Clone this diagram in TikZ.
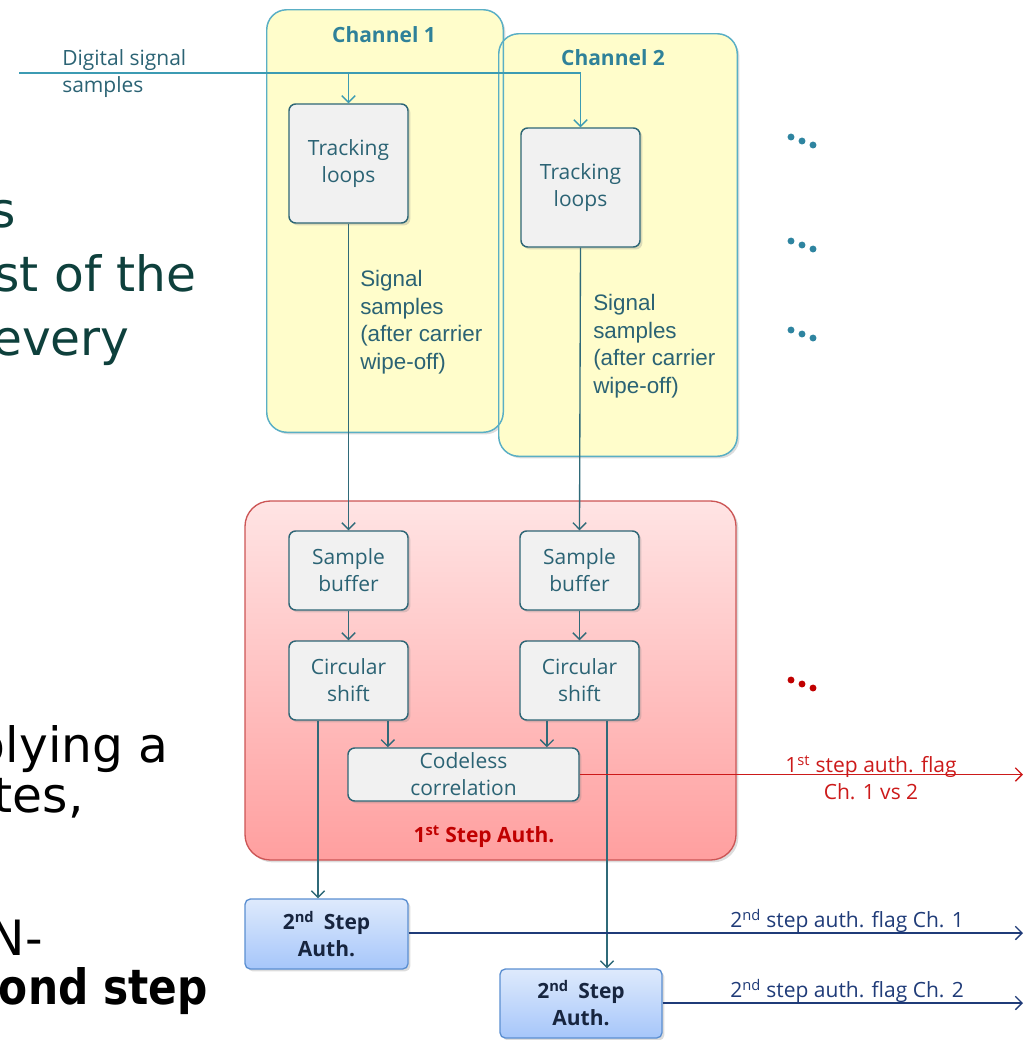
\documentclass[tikz,border=0pt]{standalone}
\usepackage{fontspec}
\setmainfont{Open Sans}
\newfontfamily\arialfont{Liberation Sans}
\newfontfamily\slidefont{DejaVu Sans}
\usetikzlibrary{arrows.meta,shadows}

\definecolor{chanfill}{HTML}{FFFDCB}
\definecolor{chanedge}{HTML}{5AAFC5}
\definecolor{chantitle}{HTML}{2F8199}
\definecolor{procfill}{HTML}{F1F1F1}
\definecolor{procedge}{HTML}{2E6676}
\definecolor{proctext}{HTML}{2B6374}
\definecolor{inline}{HTML}{3C9BB3}
\definecolor{flowline}{HTML}{2F6A79}
\definecolor{redtop}{HTML}{FFE4E4}
\definecolor{redbot}{HTML}{FF9F9F}
\definecolor{rededge}{HTML}{CC5555}
\definecolor{redtext}{HTML}{C00000}
\definecolor{flagred}{HTML}{CC1A1A}
\definecolor{authtop}{HTML}{DEEAFC}
\definecolor{authbot}{HTML}{A6C6FA}
\definecolor{authedge}{HTML}{5B8FD1}
\definecolor{authtext}{HTML}{17253F}
\definecolor{flagblue}{HTML}{1F3B78}
\definecolor{slideteal}{HTML}{0E403C}
\definecolor{dotteal}{HTML}{2E84A0}

\newcommand{\bodyfont}{\fontsize{15.75}{20.25}\selectfont}
\newcommand{\notefont}{\arialfont\fontsize{16.8}{20.7}\selectfont}
\newcommand{\slidesize}{\slidefont\fontsize{36.5}{47}\selectfont}

\tikzset{
  softshadow/.style={drop shadow={opacity=0.28, shadow xshift=1.8pt, shadow yshift=-1.8pt}},
  chanarea/.style={fill=chanfill, rounded corners=15pt, inner sep=0pt, softshadow},
  chanborder/.style={draw=chanedge, line width=1.1pt, rounded corners=15pt},
  chantitle/.style={font=\bodyfont\bfseries, text=chantitle, anchor=base},
  procbox/.style={fill=procfill, draw=procedge, line width=1.1pt, rounded corners=5pt,
    text=proctext, font=\bodyfont, align=center, inner sep=0pt, softshadow,
    minimum width=89.25pt},
  authbox/.style={top color=authtop, bottom color=authbot, draw=authedge, line width=1pt,
    rounded corners=4pt, text=authtext, font=\bodyfont\bfseries, align=center,
    inner sep=0pt, softshadow},
  redarea/.style={top color=redtop, bottom color=redbot, draw=rededge, line width=1pt,
    rounded corners=19pt, inner sep=0pt, softshadow},
  barb/.style={-{Straight Barb[length=5pt,width=10pt]}},
  feed/.style={draw=inline, line width=1pt, barb},
  flow/.style={draw=flowline, line width=1pt, barb},
  note/.style={font=\notefont, text=proctext, align=left, anchor=north west, inner sep=0pt},
  slidetext/.style={font=\slidesize, anchor=base east, inner sep=0pt},
}

\begin{document}
\begin{tikzpicture}[x=0.75pt,y=-0.75pt]
\useasboundingbox (0,0) rectangle (1029,1040);
\clip (0,0) rectangle (1029,1040);

% slide text running behind the diagram
\node[slidetext, text=slideteal] (sa) at (16,227) {s};
\node[slidetext, text=slideteal] (sb) at (197,291) {st of the};
\node[slidetext, text=slideteal] (sc) at (130,355) {every};
\node[slidetext, text=black] (sd) at (169,762) {plying a};
\node[slidetext, text=black] (se) at (84,812) {tes,};
\node[slidetext, text=black] (sf) at (43,955) {N-};
\node[slidetext, text=black, font=\slidesize\bfseries] (sg) at (208,1004)
  {\scalebox{0.87}[1]{ond step}};

% channel areas
\node[chanarea, minimum width=177pt, minimum height=316.5pt] (ch1) at (385,221) {};
\node[chanarea, minimum width=178.5pt, minimum height=316.5pt] (ch2) at (618,245) {};
\draw[chanborder] (ch1.south west) rectangle (ch1.north east);
\draw[chanborder] (ch2.south west) rectangle (ch2.north east);
\node[chantitle] (t1) at (384,42) {Channel 1};
\node[chantitle] (t2) at (613,65) {Channel 2};

% first-step authentication area
\node[redarea, minimum width=368.25pt, minimum height=269.25pt] (red) at (490.5,680.5) {};
\node[font=\bodyfont\bfseries, text=redtext, anchor=base] (redlbl) at (484,842)
  {1\textsuperscript{st} Step Auth.};

% processing blocks
\node[procbox, minimum height=89.25pt] (trk1) at (348.5,163.5) {Tracking\\loops};
\node[procbox, minimum height=89.25pt] (trk2) at (580.5,187.5) {Tracking\\loops};
\node[procbox, minimum height=59.25pt] (buf1) at (348.5,570.5) {Sample\\buffer};
\node[procbox, minimum height=59.25pt] (buf2) at (579.5,570.5) {Sample\\buffer};
\node[procbox, minimum height=59.25pt] (cs1) at (348.5,680.5) {Circular\\shift};
\node[procbox, minimum height=59.25pt] (cs2) at (579.5,680.5) {Circular\\shift};
\node[procbox, minimum width=173.25pt, minimum height=39.75pt] (cor) at (463.5,774.5)
  {Codeless\\correlation};

% second-step authentication blocks
\node[authbox, minimum width=122.25pt, minimum height=52.5pt] (au1) at (326.5,934)
  {2\textsuperscript{nd}\hspace{0.45em}Step\\Auth.};
\node[authbox, minimum width=121.5pt, minimum height=51.75pt] (au2) at (581,1003.5)
  {2\textsuperscript{nd}\hspace{0.45em}Step\\Auth.};

% input samples
\coordinate (din) at (19,73);
\node[font=\bodyfont, text=proctext, align=left, anchor=base west, inner sep=0pt]
  (dinlbl) at (62,92) {Digital signal\\samples};
\draw[feed] (din) -| (trk2.north);
\draw[feed] (trk1.north |- din) -- (trk1.north);

% per-channel flows
\draw[flow] (trk1.south) -- (buf1.north);
\draw[flow] (trk2.south) -- (buf2.north);
\node[note] (n1) at (360,270) {Signal\\samples\\(after carrier\\wipe-off)};
\node[note] (n2) at (593,294) {Signal\\samples\\(after carrier\\wipe-off)};
\draw[flow] (buf1.south) -- (cs1.north);
\draw[flow] (buf2.south) -- (cs2.north);
\draw[flow] ([xshift=29.5pt]cs1.south) -- ([xshift=29.5pt]cs1.south |- cor.north);
\draw[flow] ([xshift=-24.4pt]cs2.south) -- ([xshift=-24.4pt]cs2.south |- cor.north);
\draw[flow] ([xshift=-22.9pt]cs1.south) -- ([xshift=-22.9pt]cs1.south |- au1.north);
\draw[flow] ([xshift=20.6pt]cs2.south) -- ([xshift=20.6pt]cs2.south |- au2.north);

% output flags
\coordinate (f1) at (1023,774.5);
\coordinate (f2) at (1023,933);
\coordinate (f3) at (1023,1003);
\draw[draw=flagred, line width=1pt, barb] (cor.east) -- (f1);
\node[font=\bodyfont, text=flagred, align=center, inner sep=0pt] (f1lbl) at (871,778)
  {1\textsuperscript{st} step auth. flag\\Ch. 1 vs 2};
\draw[draw=flagblue, line width=1pt, barb] (au1.east |- f2) -- (f2);
\draw[draw=flagblue, line width=1pt, barb] (au2.east |- f3) -- (f3);
\node[font=\bodyfont, text=flagblue, anchor=base west, inner sep=0pt] (f2lbl) at (730,927)
  {2\textsuperscript{nd} step auth. flag Ch. 1};
\node[font=\bodyfont, text=flagblue, anchor=base west, inner sep=0pt] (f3lbl) at (730,997)
  {2\textsuperscript{nd} step auth. flag Ch. 2};

% further channels
\foreach \yy in {137,241,330}
  \fill[dotteal] (791,\yy) circle[radius=2.6pt] (802,\yy+4) circle[radius=2.6pt]
    (813,\yy+8) circle[radius=2.6pt];
\fill[redtext] (791,680) circle[radius=2.6pt] (802,684) circle[radius=2.6pt]
  (813,688) circle[radius=2.6pt];
\end{tikzpicture}
\end{document}
